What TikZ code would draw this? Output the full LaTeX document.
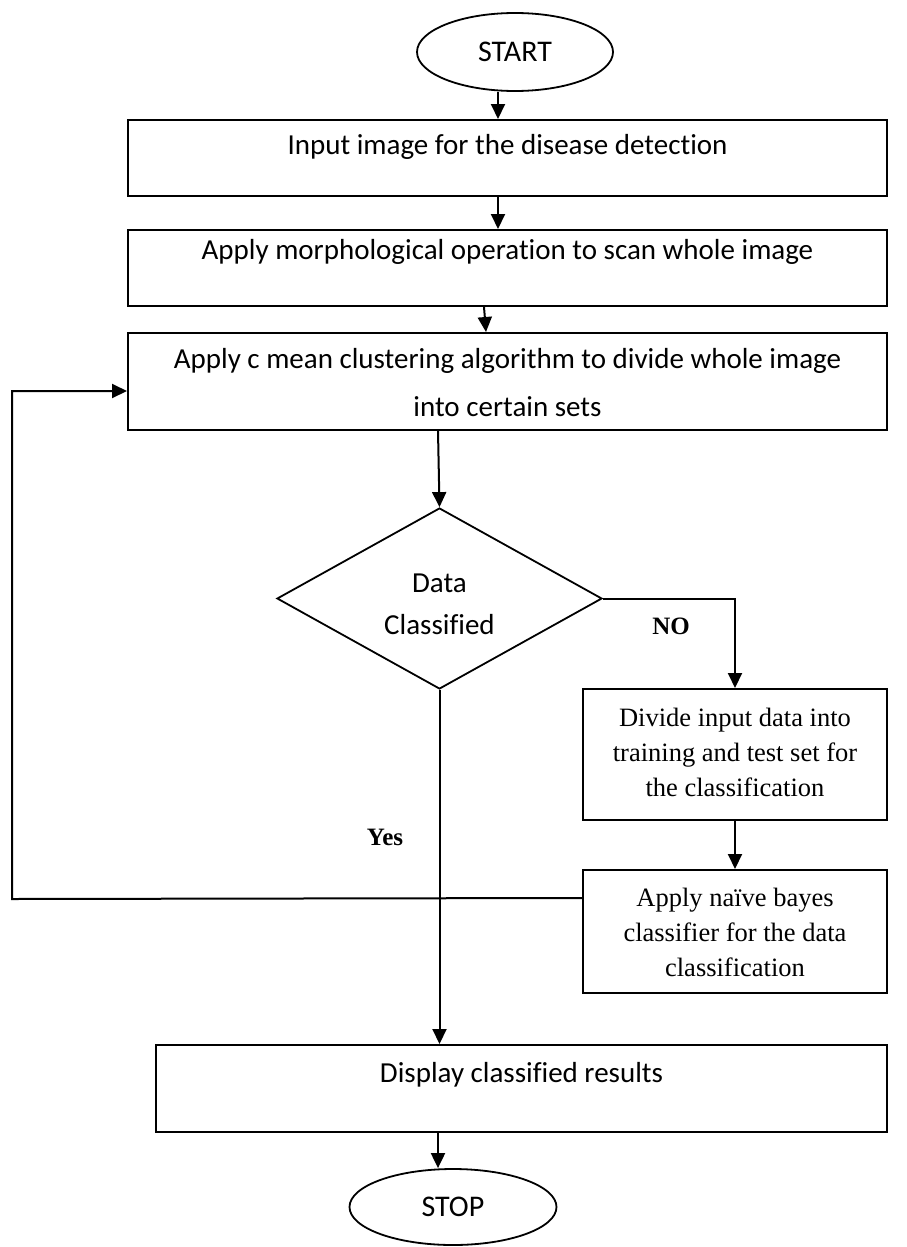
\documentclass[tikz,border=0pt]{standalone}
\usepackage{fontspec}
\setmainfont{Carlito}[Ligatures=NoCommon]
\newfontfamily\tnr{Liberation Serif}
\usetikzlibrary{shapes.geometric,arrows.meta}
\begin{document}
\begin{tikzpicture}[x=1pt,y=-1pt,
  box/.style={draw,line width=2,rectangle,inner sep=0},
  term/.style={draw,line width=1.8,ellipse,inner sep=0,font=\fontsize{30}{34}\selectfont},
  cal/.style={font=\fontsize{29}{48}\selectfont,align=center,inner sep=0},
  tim/.style={font=\fontsize{26.5}{35}\selectfont\tnr,align=center,inner sep=0},
  lab/.style={font=\fontsize{25}{30}\selectfont\tnr\bfseries,inner sep=0},
  arr/.style={line width=2,-{Triangle[length=15pt,width=14pt]}},
  plain/.style={line width=2}]
\useasboundingbox (0,0) rectangle (907,1247);

% terminals
\node[term,minimum width=196,minimum height=78] (start) at (515,52) {START};
\node[term,minimum width=207,minimum height=76] (stop) at (453,1207) {STOP};

% process boxes
\node[box,minimum width=759,minimum height=76] (b1) at (507.5,158) {};
\node[cal] (t1) at (507.5,147) {Input image for the disease detection};
\node[box,minimum width=759,minimum height=76] (b2) at (507.5,268) {};
\node[cal] (t2) at (507.5,252) {Apply morphological operation to scan whole image};
\node[box,minimum width=759,minimum height=97] (b3) at (507.5,381.5) {};
\node[cal] (t3) at (507.5,383) {Apply c mean clustering algorithm to divide whole image\\into certain sets};

% decision
\node[draw,line width=1.8,diamond,minimum width=325,minimum height=181,inner sep=0] (d) at (439.5,598.5) {};
\node[cal,font=\fontsize{29}{42}\selectfont] (td) at (439.5,604) {Data\\Classified};

\node[box,minimum width=304,minimum height=131] (b4) at (735,754.5) {};
\node[tim] (t4) at (735,752) {Divide input data into\\training and test set for\\the classification};
\node[box,minimum width=304,minimum height=123] (b5) at (735,931.5) {};
\node[tim] (t5) at (735,932.5) {Apply naïve bayes\\classifier for the data\\classification};

\node[box,minimum width=731,minimum height=87] (b6) at (521.5,1088.5) {};
\node[cal] (t6) at (521.5,1075) {Display classified results};

% labels
\node[lab] (no) at (671,626) {NO};
\node[lab] (yes) at (385,837) {Yes};

% connectors
\draw[arr] ([xshift=-17]start.south) -- ([xshift=-9.5]b1.north);
\draw[arr] ([xshift=-9.5]b1.south) -- ([xshift=-9.5]b2.north);
\draw[arr] ([xshift=-23.5]b2.south) -- ([xshift=-21.5]b3.north);
\draw[arr] ([xshift=-69.5]b3.south) -- (d.north);
\draw[arr] (d.east) -| (b4.north);
\draw[arr] (b4.south) -- (b5.north);
\coordinate (fb1) at (12,899);
\coordinate (fb2) at (12,391);
\draw[arr] ([yshift=33.5]b5.west) -- (fb1) -- (fb2) -- ([yshift=-9.5]b3.west);
\draw[arr] (d.south) -- (d.south |- b6.north);
\draw[arr] ([xshift=-83.5]b6.south) -- (stop.north -| 438,0);
\end{tikzpicture}
\end{document}
